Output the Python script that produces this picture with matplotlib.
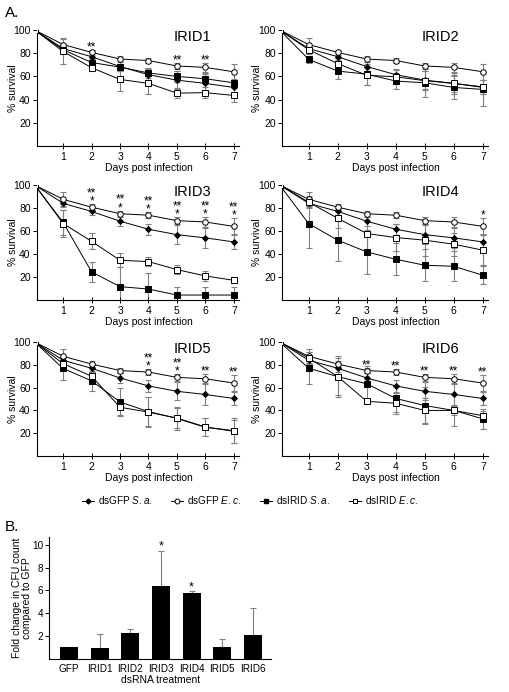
import numpy as np
import matplotlib
matplotlib.use("Agg")
import matplotlib.pyplot as plt
from matplotlib.lines import Line2D

plt.rcParams['font.family'] = ['Liberation Sans', 'DejaVu Sans']
plt.rcParams['mathtext.fontset'] = 'custom'
plt.rcParams['mathtext.it'] = 'Liberation Sans:italic'
plt.rcParams['mathtext.rm'] = 'Liberation Sans'

# ---- survival data (% survival, days 0-7) ----
days = [0, 1, 2, 3, 4, 5, 6, 7]

gfp_sa = [100, 84, 77, 68.5, 61.5, 56.8, 54, 50.5]
gfp_sa_err = [0, 3, 3, 4, 5, 8, 9, 6]
gfp_ec = [100, 87.5, 80.7, 75, 73.7, 69, 67.8, 64]
gfp_ec_err = [0, 6, 2.5, 2.5, 2.5, 3, 4, 7]

irid1_sa = [100, 83, 72, 68, 63, 60, 58, 54.5]
irid1_sa_err = [0, 4, 3, 3, 4, 5, 4, 3]
irid1_ec = [100, 81.5, 67.5, 57.4, 54, 45.6, 46, 43.6]
irid1_ec_err = [0, 11, 3, 10, 9, 4.5, 5, 6]

irid2_sa = [100, 74.7, 64.6, 62, 56, 54.5, 50.5, 48.8]
irid2_sa_err = [0, 3, 7, 9, 7, 12, 10, 14]
irid2_ec = [100, 83, 71, 61, 59.7, 56.3, 54, 51]
irid2_ec_err = [0, 4, 5, 8, 6, 8, 7, 6]

irid3_sa = [100, 67.4, 24.4, 11.6, 9.5, 4.3, 4.3, 4.3]
irid3_sa_err = [0, 11, 9, 17, 14, 7, 7, 7]
irid3_ec = [100, 66.5, 51, 34.5, 33.4, 26.4, 20.9, 17.1]
irid3_ec_err = [0, 12, 7, 6, 4, 4, 4, 1.5]

irid4_sa = [100, 66.3, 52, 41.8, 35.4, 30.2, 29.3, 21.5]
irid4_sa_err = [0, 21, 18, 19, 14, 14, 13, 8]
irid4_ec = [100, 85, 71, 57.8, 54.3, 52, 48.5, 43.3]
irid4_ec_err = [0, 5, 8, 14, 12, 14, 10, 13]

irid5_sa = [100, 76.8, 66, 47.4, 39, 33, 25.2, 22.3]
irid5_sa_err = [0, 10, 9, 12, 13, 10, 8, 11]
irid5_ec = [100, 81, 70, 42.8, 38.5, 33.3, 25.5, 21.7]
irid5_ec_err = [0, 5, 4, 7, 13, 9, 8, 10]

irid6_sa = [100, 77, 69.7, 63.4, 50.5, 44.3, 40, 32.6]
irid6_sa_err = [0, 14, 18, 16, 12, 16, 14, 9]
irid6_ec = [100, 86, 69.7, 48, 46.3, 40, 40, 35.4]
irid6_ec_err = [0, 5, 16, 2, 9, 11, 4, 4]

# significance marks for days 1-7
stars1 = ['', '**', '', '', '**', '**', '']
stars2 = ['', '', '', '', '', '', '']
stars3 = ['', '**\n*', '**\n*', '**\n*', '**\n*', '**\n*', '**\n*']
stars4 = ['', '', '', '', '', '', '*']
stars5 = ['', '', '', '**\n*', '**\n*', '**', '**']
stars6 = ['', '', '**', '**', '**', '**', '**']

panel_names = ['IRID1', 'IRID2', 'IRID3', 'IRID4', 'IRID5', 'IRID6']

# ---- CFU fold change data ----
treatments = ['GFP', 'IRID1', 'IRID2', 'IRID3', 'IRID4', 'IRID5', 'IRID6']
fold_change = [1.0, 0.95, 2.25, 6.35, 5.75, 1.05, 2.05]
fold_err = [0, 1.2, 0.35, 3.15, 0.2, 0.7, 2.4]
bar_stars = ['', '', '', '*', '*', '', '']

fig = plt.figure(figsize=(5.1, 6.92), dpi=100)

col_left = [0.0725, 0.553]
col_width = [0.396, 0.404]
row_bottom = [0.789, 0.5665, 0.341]
row_height = [0.1676, 0.1662, 0.1647]

sa_list = [irid1_sa, irid2_sa, irid3_sa, irid4_sa, irid5_sa, irid6_sa]
sa_err_list = [irid1_sa_err, irid2_sa_err, irid3_sa_err, irid4_sa_err, irid5_sa_err, irid6_sa_err]
ec_list = [irid1_ec, irid2_ec, irid3_ec, irid4_ec, irid5_ec, irid6_ec]
ec_err_list = [irid1_ec_err, irid2_ec_err, irid3_ec_err, irid4_ec_err, irid5_ec_err, irid6_ec_err]
stars_list = [stars1, stars2, stars3, stars4, stars5, stars6]

ecol = '0.5'
xmin, xmax = 0.08, 7.18

for k in range(6):
	r, c = k // 2, k % 2
	ax = fig.add_axes([col_left[c], row_bottom[r], col_width[c], row_height[r]])
	series = [
		(gfp_sa, gfp_sa_err, dict(marker='D', ms=3, mfc='black', mec='black')),
		(gfp_ec, gfp_ec_err, dict(marker='o', ms=4, mfc='white', mec='black')),
		(sa_list[k], sa_err_list[k], dict(marker='s', ms=4, mfc='black', mec='black')),
		(ec_list[k], ec_err_list[k], dict(marker='s', ms=4.5, mfc='white', mec='black')),
	]
	for y, e, st in series:
		ax.errorbar(days[1:], y[1:], yerr=e[1:], fmt='none', ecolor=ecol, elinewidth=0.8, capsize=2, capthick=0.8, zorder=1)
	for y, e, st in series:
		ax.plot(days, y, color='black', lw=0.7, mew=0.7, zorder=3, **st)

	# stars just above the highest upper error
	for i, s in enumerate(stars_list[k]):
		if s == '':
			continue
		d = i + 1
		top = max(gfp_ec[d] + gfp_ec_err[d], gfp_sa[d] + gfp_sa_err[d])
		ax.text(d, top - 3, s, ha='center', va='bottom', fontsize=8.5, linespacing=0.6)

	ax.set_xlim(xmin, xmax)
	ax.set_ylim(0, 100)
	ax.set_xticks([1, 2, 3, 4, 5, 6, 7])
	ax.set_yticks([20, 40, 60, 80, 100])
	ax.tick_params(axis='x', direction='inout', length=4, width=0.7, labelsize=7.5, pad=2)
	ax.tick_params(axis='y', direction='out', length=3, width=0.7, labelsize=7.5, pad=1.5)
	for sp in ['top', 'right']:
		ax.spines[sp].set_visible(False)
	for sp in ['left', 'bottom']:
		ax.spines[sp].set_linewidth(0.8)
	ax.set_ylabel('% survival', fontsize=7.5)
	ax.yaxis.set_label_coords(-0.095, 0.5)
	ax.set_xlabel('Days post infection', fontsize=7.5, labelpad=1, x=(4 - xmin) / (xmax - xmin))
	ax.text(0.77, 1.0, panel_names[k], transform=ax.transAxes, ha='center', va='top', fontsize=10.5)

# legend
handles = [
	Line2D([], [], color='black', lw=0.7, marker='D', ms=2.5, mfc='black', mec='black'),
	Line2D([], [], color='black', lw=0.7, marker='o', ms=3.5, mfc='white', mec='black', mew=0.7),
	Line2D([], [], color='black', lw=0.7, marker='s', ms=3.5, mfc='black', mec='black'),
	Line2D([], [], color='black', lw=0.7, marker='s', ms=3.5, mfc='white', mec='black', mew=0.7),
]
labels = ['dsGFP $\\it{S.a.}$', 'dsGFP $\\it{E.c.}$', 'dsIRID $\\it{S.a.}$', 'dsIRID $\\it{E.c.}$']
fig.legend(handles, labels, loc='center', bbox_to_anchor=(0.49, 0.277), ncol=4, frameon=False,
	fontsize=7.2, handlelength=1.2, handletextpad=0.4, columnspacing=1.9)

fig.text(0.01, 0.981, 'A.', fontsize=11, va='center', ha='left')
fig.text(0.01, 0.238, 'B.', fontsize=11, va='center', ha='left')

# ---- bar chart ----
axb = fig.add_axes([0.097, 0.0484, 0.435, 0.1756])
xpos = np.arange(len(treatments))
axb.bar(xpos, fold_change, width=0.58, color='black', zorder=2)
axb.errorbar(xpos, fold_change, yerr=[np.zeros(len(fold_err)), fold_err], fmt='none',
	ecolor=ecol, elinewidth=0.8, capsize=2.5, capthick=0.8, zorder=1)
for i, s in enumerate(bar_stars):
	if s:
		axb.text(xpos[i], fold_change[i] + fold_err[i] - 0.2, s, ha='center', va='bottom', fontsize=9)
axb.set_xlim(-0.64, 6.6)
axb.set_ylim(0, 10.7)
axb.set_yticks([2, 4, 6, 8, 10])
axb.set_xticks(xpos)
axb.set_xticklabels(treatments)
axb.tick_params(axis='x', length=0, labelsize=7.2, pad=4)
axb.tick_params(axis='y', direction='out', length=3, width=0.7, labelsize=7.2, pad=1.5)
for sp in ['top', 'right']:
	axb.spines[sp].set_visible(False)
for sp in ['left', 'bottom']:
	axb.spines[sp].set_linewidth(0.8)
axb.set_ylabel('Fold change in CFU count\ncompared to GFP', fontsize=7.5, linespacing=1.0)
axb.yaxis.set_label_coords(-0.08, 0.5)
axb.set_xlabel('dsRNA treatment', fontsize=7.5, labelpad=1)

fig.savefig('out.png', dpi=100)
plt.close(fig)
